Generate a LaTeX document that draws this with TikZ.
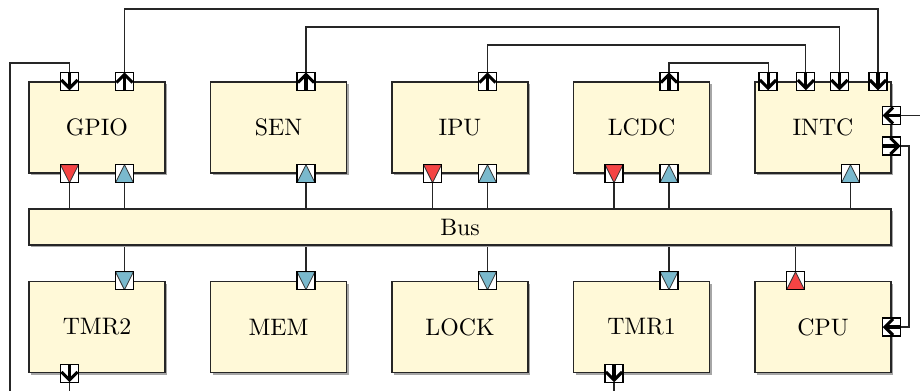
\documentclass[tikz,border=0pt]{standalone}
\usetikzlibrary{arrows.meta,shadows,backgrounds,calc}
\definecolor{boxfill}{RGB}{255,249,216}
\definecolor{pred}{RGB}{245,68,68}
\definecolor{pblue}{RGB}{122,185,205}
\tikzset{
  block/.style={draw=black!85, line width=0.6pt, fill=boxfill,
    minimum width=57.12pt, minimum height=38.22pt, inner sep=0pt,
    drop shadow={shadow xshift=1pt, shadow yshift=-1pt, fill=black!35, opacity=1}},
  busbox/.style={block, minimum width=362.04pt, minimum height=15.12pt},
  port/.style={draw=black, fill=white, line width=0.5pt, minimum size=7.56pt, inner sep=0pt},
  tri/.style={fill=#1, draw=black!80, line width=0.35pt},
  rdown/.style={port, path picture={\filldraw[tri=pred] (path picture bounding box.north west) -- (path picture bounding box.north east) -- (path picture bounding box.south) -- cycle;}},
  rup/.style={port, path picture={\filldraw[tri=pred] (path picture bounding box.south west) -- (path picture bounding box.south east) -- (path picture bounding box.north) -- cycle;}},
  bdown/.style={port, path picture={\filldraw[tri=pblue] (path picture bounding box.north west) -- (path picture bounding box.north east) -- (path picture bounding box.south) -- cycle;}},
  bup/.style={port, path picture={\filldraw[tri=pblue] (path picture bounding box.south west) -- (path picture bounding box.south east) -- (path picture bounding box.north) -- cycle;}},
  parrow/.style={line width=1.3pt, -{Straight Barb[length=3.4pt,width=6.8pt]}},
  adown/.style={port, path picture={\draw[parrow] (path picture bounding box.north) -- (path picture bounding box.south);}},
  aup/.style={port, path picture={\draw[parrow] (path picture bounding box.south) -- (path picture bounding box.north);}},
  aleft/.style={port, path picture={\draw[parrow] (path picture bounding box.east) -- (path picture bounding box.west);}},
  aright/.style={port, path picture={\draw[parrow] (path picture bounding box.west) -- (path picture bounding box.east);}},
  wire/.style={draw=black!85, line width=0.45pt},
}
\begin{document}
\begin{tikzpicture}[x=0.42pt, y=-0.42pt]
\useasboundingbox (0,0) rectangle (920,390);
% blocks, top row
\node[block] (gpio) at (97,127.5) {GPIO};
\node[block] (sen)  at (278.5,127.5) {SEN};
\node[block] (ipu)  at (460,127.5) {IPU};
\node[block] (lcdc) at (641.5,127.5) {LCDC};
\node[block] (intc) at (823,127.5) {INTC};
% bus
\node[busbox] (bus) at (460,227) {Bus};
% bottom row
\node[block] (tmr2) at (97,327) {TMR2};
\node[block] (mem)  at (278.5,327) {MEM};
\node[block] (lock) at (460,327) {LOCK};
\node[block] (tmr1) at (641.5,327) {TMR1};
\node[block] (cpu)  at (823,327) {CPU};

% ports: top edges
\node[adown] (gpio-i) at ($(gpio.north west)!0.3!(gpio.north east)$) {};
\node[aup]   (gpio-o) at ($(gpio.north west)!0.7!(gpio.north east)$) {};
\node[aup]   (sen-o)  at ($(sen.north west)!0.7!(sen.north east)$) {};
\node[aup]   (ipu-o)  at ($(ipu.north west)!0.7!(ipu.north east)$) {};
\node[aup]   (lcdc-o) at ($(lcdc.north west)!0.7!(lcdc.north east)$) {};
\node[adown] (intc-i1) at ($(intc.north west)!0.1!(intc.north east)$) {};
\node[adown] (intc-i2) at ($(intc.north west)!0.375!(intc.north east)$) {};
\node[adown] (intc-i3) at ($(intc.north west)!0.62!(intc.north east)$) {};
\node[adown] (intc-i4) at ($(intc.north west)!0.9!(intc.north east)$) {};
\node[aleft]  (intc-r1) at ($(intc.north east)!0.37!(intc.south east)$) {};
\node[aright] (intc-r2) at ($(intc.north east)!0.70!(intc.south east)$) {};
\node[aleft]  (cpu-i) at (cpu.east) {};
% ports: bottom edges of top row
\node[rdown] (gpio-r) at ($(gpio.south west)!0.3!(gpio.south east)$) {};
\node[bup]   (gpio-b) at ($(gpio.south west)!0.7!(gpio.south east)$) {};
\node[bup]   (sen-b)  at ($(sen.south west)!0.7!(sen.south east)$) {};
\node[rdown] (ipu-r)  at ($(ipu.south west)!0.3!(ipu.south east)$) {};
\node[bup]   (ipu-b)  at ($(ipu.south west)!0.7!(ipu.south east)$) {};
\node[rdown] (lcdc-r) at ($(lcdc.south west)!0.3!(lcdc.south east)$) {};
\node[bup]   (lcdc-b) at ($(lcdc.south west)!0.7!(lcdc.south east)$) {};
\node[bup]   (intc-b) at ($(intc.south west)!0.7!(intc.south east)$) {};
% ports: bottom row
\node[bdown] (tmr2-t) at ($(tmr2.north west)!0.7!(tmr2.north east)$) {};
\node[bdown] (mem-t)  at ($(mem.north west)!0.7!(mem.north east)$) {};
\node[bdown] (lock-t) at ($(lock.north west)!0.7!(lock.north east)$) {};
\node[bdown] (tmr1-t) at ($(tmr1.north west)!0.7!(tmr1.north east)$) {};
\node[rup]   (cpu-t)  at ($(cpu.north west)!0.3!(cpu.north east)$) {};
\node[adown] (tmr2-o) at ($(tmr2.south west)!0.3!(tmr2.south east)$) {};
\node[adown] (tmr1-o) at ($(tmr1.south west)!0.3!(tmr1.south east)$) {};

% routing levels
\coordinate (lvl1) at (0,9);
\coordinate (lvl2) at (0,27);
\coordinate (lvl3) at (0,45);
\coordinate (lvl4) at (0,63);
\coordinate (leftx) at (10,0);
\coordinate (bot) at (0,397);
\coordinate (rightx) at (928,0);
\coordinate (rx2) at (909,0);

\begin{pgfonlayer}{background}
  \draw[wire] (gpio-o.center) -- (gpio-o |- lvl1) -| (intc-i4.center);
  \draw[wire] (sen-o.center) -- (sen-o |- lvl2) -| (intc-i3.center);
  \draw[wire] (ipu-o.center) -- (ipu-o |- lvl3) -| (intc-i2.center);
  \draw[wire] (lcdc-o.center) -- (lcdc-o |- lvl4) -| (intc-i1.center);
  \draw[wire] (tmr2-o.center) -- (tmr2-o |- bot) -| (leftx |- lvl4) -| (gpio-i.center);
  \draw[wire] (tmr1-o.center) -- (tmr1-o |- bot) -| (rightx |- intc-r1) -- (intc-r1.center);
  \draw[wire] (intc-r2.center) -- (rx2 |- intc-r2) |- (cpu-i.center);
  % bus links
  \foreach \p in {gpio-r,gpio-b,sen-b,ipu-r,ipu-b,lcdc-r,lcdc-b,intc-b}
    \draw[wire] (\p.south) -- (\p.south |- bus.north);
  \foreach \p in {tmr2-t,mem-t,lock-t,tmr1-t,cpu-t}
    \draw[wire] (\p.north |- bus.south) -- (\p.north);
\end{pgfonlayer}
\end{tikzpicture}
\end{document}
